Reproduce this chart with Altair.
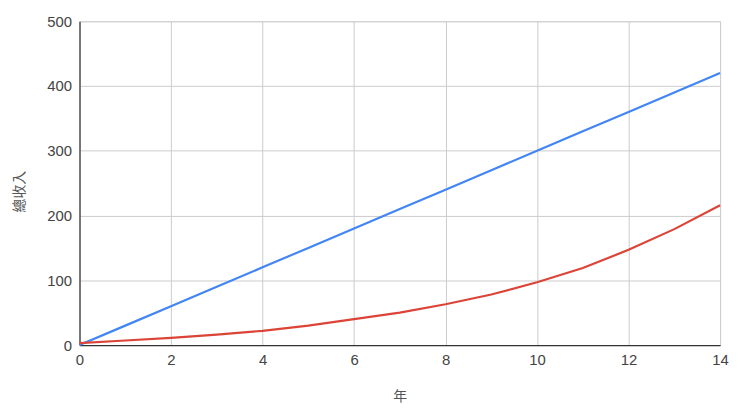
import altair as alt
import pandas as pd

years = list(range(15))
linear_income = [0, 30, 60, 90, 120, 150, 180, 210, 240, 270, 300, 330, 360, 390, 420]
compound_income = [3, 7, 11, 16, 22, 30, 40, 50, 63, 78, 97, 119, 147, 179, 216]
series_names = ["線性", "複利"]
series_colors = ["#4285F4", "#DB4437"]

rows = []
for y, a, b in zip(years, linear_income, compound_income):
    rows.append({"年": y, "總收入": a, "series": series_names[0]})
    rows.append({"年": y, "總收入": b, "series": series_names[1]})
df = pd.DataFrame(rows)

label_font = "Liberation Sans"
title_font = "Noto Sans CJK TC"

chart = alt.Chart(df).mark_line(strokeWidth=2.2).encode(
    x=alt.X("年:Q",
            scale=alt.Scale(domain=[0, 14], nice=False),
            axis=alt.Axis(values=[0, 2, 4, 6, 8, 10, 12, 14], format="d",
                          title="年", titleFont=title_font, titleFontSize=14,
                          titleFontWeight="normal", titleColor="#555",
                          titleY=52, titleBaseline="middle",
                          labelFont=label_font, labelFontSize=15, labelColor="#444",
                          labelPadding=8, ticks=False, labelFlush=False,
                          domainColor="#333", domainWidth=1.2,
                          gridColor="#cccccc", labelOverlap=False)),
    y=alt.Y("總收入:Q",
            scale=alt.Scale(domain=[0, 500], nice=False),
            axis=alt.Axis(values=[0, 100, 200, 300, 400, 500],
                          title="總收入", titleFont=title_font, titleFontSize=14,
                          titleFontWeight="normal", titleColor="#555",
                          titleX=-60, titleY=171, titleAlign="center",
                          titleBaseline="middle", titleAngle=-90,
                          labelFont=label_font, labelFontSize=15, labelColor="#444",
                          labelPadding=8, ticks=False, labelFlush=False,
                          domainColor="#333", domainWidth=1.2,
                          gridColor="#cccccc")),
    color=alt.Color("series:N",
                    scale=alt.Scale(domain=series_names, range=series_colors),
                    legend=None),
).properties(
    width=645,
    height=326,
    autosize=alt.AutoSizeParams(type="none"),
    padding={"left": 72, "top": 12, "right": 12, "bottom": 60},
).configure_view(stroke=None).configure(background="white")

chart.save("out.html", embed_options={"renderer": "svg", "actions": False})
